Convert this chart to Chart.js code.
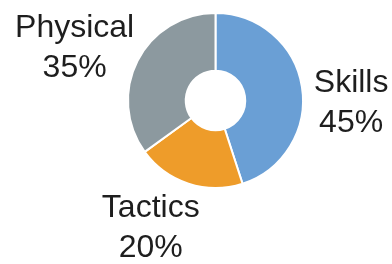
<!DOCTYPE html>
<html>
<head>
<meta charset="utf-8">
<script src="https://cdn.jsdelivr.net/npm/chart.js@4"></script>
<style>
    html, body { margin: 0; padding: 0; background: #fff; }
    canvas { display: block; }
</style>
</head>
<body>
<canvas id="chart" width="392" height="264"></canvas>
<script>
const categories = ['Skills', 'Tactics', 'Physical'];
const shares = [45, 20, 35];
const colors = ['#6a9fd5', '#ee9c2a', '#8c999f'];

// label anchor offsets from the doughnut centre, in units of the outer radius
const labelOffsets = [
    { dx: 1.55, dy: -0.10 },
    { dx: -0.74, dy: 1.33 },
    { dx: -1.61, dy: -0.73 }
];

const outsideLabels = {
    id: 'outsideLabels',
    afterDraw(chart) {
        const ctx = chart.ctx;
        const meta = chart.getDatasetMeta(0);
        ctx.save();
        ctx.font = '32px "Liberation Sans", Arial, sans-serif';
        ctx.fillStyle = '#1e1e1e';
        ctx.textAlign = 'center';
        ctx.textBaseline = 'alphabetic';
        meta.data.forEach((arc, i) => {
            const r = arc.outerRadius;
            const x = arc.x + labelOffsets[i].dx * r;
            const y = arc.y + labelOffsets[i].dy * r;
            ctx.fillText(categories[i], x, y);
            ctx.fillText(shares[i] + '%', x, y + 40);
        });
        ctx.restore();
    }
};

const chartArea = document.getElementById('chart');
var chart = new Chart(chartArea, {
    type: 'doughnut',
    data: {
        labels: categories,
        datasets: [{
            data: shares,
            backgroundColor: colors,
            borderColor: '#ffffff',
            borderWidth: 2
        }]
    },
    options: {
        responsive: false,
        animation: false,
        cutout: '34%',
        layout: {
            padding: { left: 127, right: 88, top: 12, bottom: 75 }
        },
        plugins: {
            legend: { display: false },
            tooltip: { enabled: false }
        }
    },
    plugins: [outsideLabels]
});
</script>
</body>
</html>
